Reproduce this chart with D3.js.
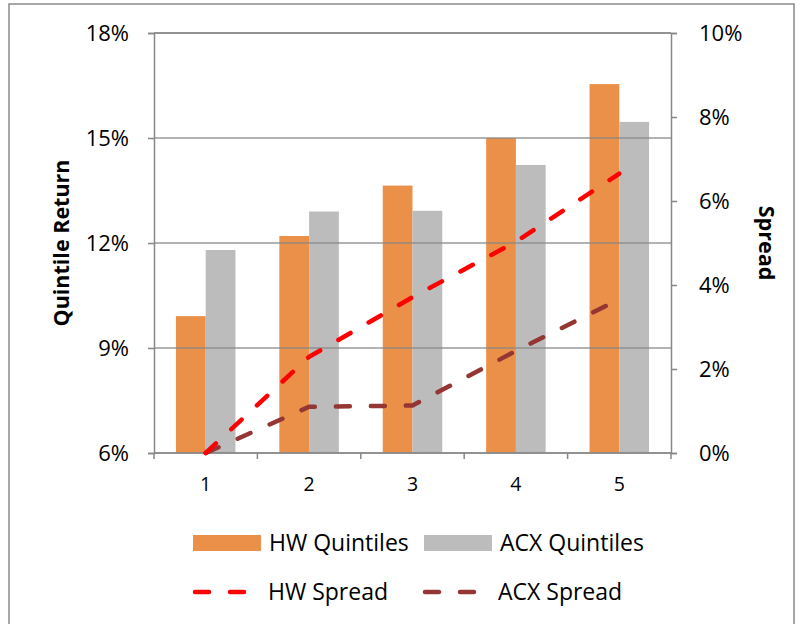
<!DOCTYPE html>
<html><head><meta charset="utf-8">
<script src="https://cdn.jsdelivr.net/npm/d3@7"></script>
<style>body{margin:0;background:#fff;} text{font-family:"Open Sans", sans-serif;fill:#000;}</style>
</head><body>
<svg id="c" width="806" height="624"></svg>
<script>
const categories = ["1","2","3","4","5"];
const hwQuintiles = [9.91, 12.2, 13.64, 15.0, 16.54];
const acxQuintiles = [11.8, 12.9, 12.92, 14.23, 15.46];
const hwSpread = [0, 2.29, 3.71, 5.03, 6.65];
const acxSpread = [0, 1.10, 1.13, 2.43, 3.66];
const leftTicks = [6, 9, 12, 15, 18];
const rightTicks = [0, 2, 4, 6, 8, 10];

const FONT = "Open Sans";
const svg = d3.select("#c");
const L = 154, R = 671, T = 33, B = 453;
const axisCol = "#878787";
svg.append("rect").attr("x",9).attr("y",4).attr("width",785).attr("height",640)
  .attr("fill","none").attr("stroke","#8a8a8a").attr("stroke-width",1.5);

const x = d3.scaleBand().domain(categories).range([L,R]);
const xs = d3.scaleBand().domain(["hw","acx"]).range([0, 59.5]);
const yL = d3.scaleLinear().domain([6,18]).range([B,T]);
const yR = d3.scaleLinear().domain([0,10]).range([B,T]);
const off = (x.bandwidth()-59.5)/2;

// bars
const g = svg.append("g");
g.selectAll(".hw").data(hwQuintiles).join("rect")
  .attr("x",(d,i)=>x(categories[i])+off+xs("hw")).attr("width",xs.bandwidth())
  .attr("y",d=>yL(d)).attr("height",d=>B-yL(d)).attr("fill","#EA9048");
g.selectAll(".acx").data(acxQuintiles).join("rect")
  .attr("x",(d,i)=>x(categories[i])+off+xs("acx")).attr("width",xs.bandwidth())
  .attr("y",d=>yL(d)).attr("height",d=>B-yL(d)).attr("fill","#BCBCBC");

// gridlines (drawn over bars, as in reference)
svg.append("g").selectAll("line").data(leftTicks).join("line")
  .attr("x1",L).attr("x2",R).attr("y1",d=>yL(d)).attr("y2",d=>yL(d))
  .attr("stroke",axisCol).attr("stroke-opacity",0.85).attr("stroke-width",1.5);

// axes
const fmt = d=>d+"%";
const la = svg.append("g").attr("transform",`translate(${L},0)`)
  .call(d3.axisLeft(yL).tickValues(leftTicks).tickFormat(fmt).tickSize(6).tickPadding(19));
const ra = svg.append("g").attr("transform",`translate(${R},0)`)
  .call(d3.axisRight(yR).tickValues(rightTicks).tickFormat(fmt).tickSize(6).tickPadding(22));
const xa = svg.append("g").attr("transform",`translate(0,${B})`)
  .call(d3.axisBottom(x).tickSize(0).tickPadding(24));
// category boundary ticks
svg.append("g").selectAll("line").data(d3.range(categories.length+1)).join("line")
  .attr("x1",i=>L+i*x.step()).attr("x2",i=>L+i*x.step())
  .attr("y1",B).attr("y2",B+6).attr("stroke",axisCol).attr("stroke-width",1.5);
[la,ra,xa].forEach(a=>{
  a.selectAll("path").attr("stroke",axisCol).attr("stroke-width",1.5);
  a.selectAll("line").attr("stroke",axisCol).attr("stroke-width",1.5);
  a.selectAll("text").attr("font-size",22).attr("font-family",FONT).attr("fill","#000");
});
xa.selectAll("text").attr("font-size",19.5);
xa.select("path").remove();
svg.append("line").attr("x1",L).attr("x2",R).attr("y1",B).attr("y2",B).attr("stroke",axisCol).attr("stroke-width",1.5);
svg.append("line").attr("x1",L).attr("x2",R).attr("y1",T).attr("y2",T).attr("stroke",axisCol).attr("stroke-width",1.5);

// lines
const cx = i=>x(categories[i])+x.bandwidth()/2;
const line = d3.line().x((d,i)=>cx(i)).y(d=>yR(d));
svg.append("path").datum(acxSpread).attr("d",line).attr("fill","none")
  .attr("stroke","#943634").attr("stroke-width",4.5).attr("stroke-dasharray","14 21").attr("stroke-linecap","round");
svg.append("path").datum(hwSpread).attr("d",line).attr("fill","none")
  .attr("stroke","#FF0000").attr("stroke-width",4.5).attr("stroke-dasharray","14 21").attr("stroke-linecap","round");

// axis titles
svg.append("text").attr("transform","translate(69,243) rotate(-90)").attr("text-anchor","middle")
  .attr("font-size",21.5).attr("font-weight","bold").text("Quintile Return");
svg.append("text").attr("transform","translate(759,243) rotate(90)").attr("text-anchor","middle")
  .attr("font-size",21.5).attr("font-weight","bold").text("Spread");

// legend
const leg = svg.append("g");
const items = [
  {label:"HW Quintiles", type:"bar", color:"#EA9048", x:193, y:543},
  {label:"ACX Quintiles", type:"bar", color:"#BCBCBC", x:424, y:543},
  {label:"HW Spread", type:"line", color:"#FF0000", x:193, y:592},
  {label:"ACX Spread", type:"line", color:"#943634", x:423, y:592}
];
items.forEach(it=>{
  if(it.type==="bar"){
    leg.append("rect").attr("x",it.x).attr("y",it.y-8).attr("width",68).attr("height",16).attr("fill",it.color);
  } else {
    leg.append("line").attr("x1",it.x+2).attr("x2",it.x+54).attr("y1",it.y).attr("y2",it.y)
      .attr("stroke",it.color).attr("stroke-width",4.5).attr("stroke-dasharray","14 21").attr("stroke-linecap","round");
  }
  leg.append("text").attr("x",it.type==="bar"? it.x+76 : it.x+75).attr("y",it.y).attr("dy","0.35em")
    .attr("font-size",23).text(it.label);
});
</script>
</body></html>
